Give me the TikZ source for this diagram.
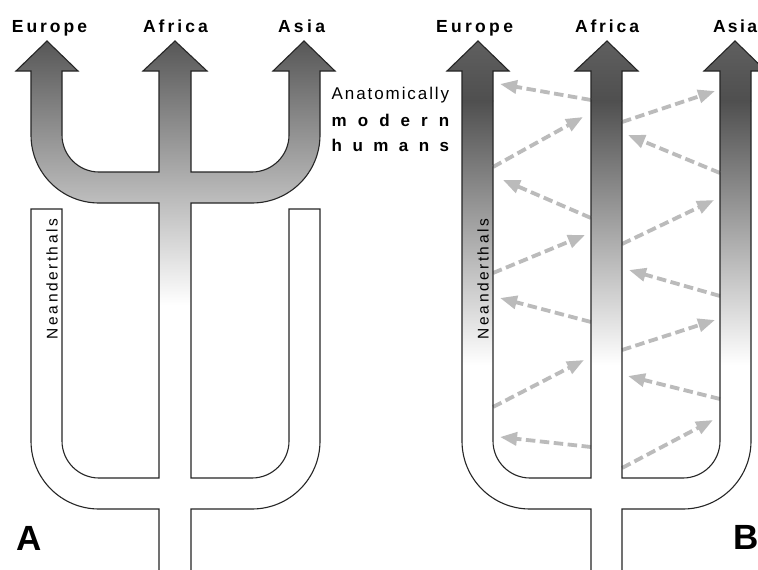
\documentclass[tikz,border=0pt]{standalone}
\usepackage{fontspec}
\setmainfont{Liberation Sans}
\usetikzlibrary{arrows.meta}
\definecolor{gdarkA}{HTML}{575757}
\definecolor{gheadB}{HTML}{606060}
\definecolor{gdarkB}{HTML}{4F4F4F}
\definecolor{migr}{HTML}{BBBBBB}
\newcommand{\spreadtxt}[2]{\makebox[#1][s]{#2}}
\begin{document}
\begin{tikzpicture}[x=1pt,y=-1pt,
  outline/.style={draw=black!85, line width=1.1pt, line join=miter},
  place/.style={font=\bfseries\fontsize{17.5}{19}\selectfont, inner sep=0pt, anchor=base},
  caption/.style={font=\fontsize{17}{19}\selectfont, inner sep=0pt, anchor=base west},
  captionbold/.style={font=\bfseries\fontsize{17}{19}\selectfont, inner sep=0pt, anchor=base west},
  neand/.style={font=\fontsize{15.5}{17}\selectfont, inner sep=0pt, anchor=base, rotate=90},
  panel/.style={font=\bfseries\fontsize{35}{40}\selectfont, inner sep=0pt, anchor=base west},
  migrate/.style={draw=migr, line width=3.8pt, dash pattern=on 9.5pt off 4.5pt,
    -{Triangle[length=17pt,width=13pt]}}]
\useasboundingbox (0,0) rectangle (758,570);
\fill[white] (0,0) rectangle (758,570);

% ---------- Panel A: modern humans (shaded) ----------
\begin{scope}
\clip (159,478) -- (159,203) -- (99,203) .. controls (61.4,203) and (31,172.6) .. (31,135)
  -- (31,71) -- (16,71) -- (47,41) -- (78,71) -- (62,71) -- (62,135)
  .. controls (62,155.4) and (78.6,172) .. (99,172) -- (159,172)
  -- (159,71) -- (143,71) -- (175,41) -- (207,71) -- (191,71) -- (191,172)
  -- (252,172) .. controls (272.4,172) and (289,155.4) .. (289,135)
  -- (289,71) -- (273,71) -- (304,41) -- (335,71) -- (320,71) -- (320,135)
  .. controls (320,172.6) and (289.6,203) .. (252,203) -- (191,203) -- (191,478) -- cycle;
\shade[top color=gdarkA, bottom color=white] (0,41) rectangle (380,305);
\end{scope}

% ---------- Panel A outline ----------
\draw[outline] (159,575) -- (159,509) -- (99,509) .. controls (61.4,509) and (31,478.6) .. (31,441)
  -- (31,209) -- (62,209) -- (62,441) .. controls (62,461.4) and (78.6,478) .. (99,478)
  -- (159,478) -- (159,203) -- (99,203) .. controls (61.4,203) and (31,172.6) .. (31,135)
  -- (31,71) -- (16,71) -- (47,41) -- (78,71) -- (62,71) -- (62,135)
  .. controls (62,155.4) and (78.6,172) .. (99,172) -- (159,172)
  -- (159,71) -- (143,71) -- (175,41) -- (207,71) -- (191,71) -- (191,172)
  -- (252,172) .. controls (272.4,172) and (289,155.4) .. (289,135)
  -- (289,71) -- (273,71) -- (304,41) -- (335,71) -- (320,71) -- (320,135)
  .. controls (320,172.6) and (289.6,203) .. (252,203) -- (191,203)
  -- (191,478) -- (252,478) .. controls (272.4,478) and (289,461.4) .. (289,441)
  -- (289,209) -- (320,209) -- (320,441) .. controls (320,478.6) and (289.6,509) .. (252,509)
  -- (191,509) -- (191,575);

% ---------- Panel B (shaded) ----------
\begin{scope}
\clip (591,575) -- (591,509) -- (530,509) .. controls (492.4,509) and (462,478.6) .. (462,441)
  -- (462,71) -- (447,71) -- (478,41) -- (509,71) -- (493,71) -- (493,441)
  .. controls (493,461.4) and (509.6,478) .. (530,478) -- (591,478)
  -- (591,71) -- (575,71) -- (607,41) -- (638,71) -- (622,71) -- (622,478)
  -- (683,478) .. controls (703.4,478) and (720,461.4) .. (720,441)
  -- (720,71) -- (704,71) -- (735,41) -- (766,71) -- (751,71) -- (751,441)
  .. controls (751,478.6) and (720.4,509) .. (683,509) -- (622,509) -- (622,575) -- cycle;
\shade[top color=gheadB, bottom color=gdarkB] (380,38) rectangle (770,101);
\shade[top color=gdarkB, bottom color=white] (380,100) rectangle (770,365);
\end{scope}

% ---------- Panel B gene flow arrows ----------
\coordinate (m1s) at (591,100);  \coordinate (m1e) at (500,84);
\coordinate (m2s) at (493,167);  \coordinate (m2e) at (583,117);
\coordinate (m3s) at (622,122);  \coordinate (m3e) at (715,91);
\coordinate (m4s) at (720,173);  \coordinate (m4e) at (628,135);
\coordinate (m5s) at (591,218);  \coordinate (m5e) at (503,180);
\coordinate (m6s) at (493,273);  \coordinate (m6e) at (585,235);
\coordinate (m7s) at (622,244);  \coordinate (m7e) at (714,200);
\coordinate (m8s) at (720,296);  \coordinate (m8e) at (629,270);
\coordinate (m9s) at (591,322);  \coordinate (m9e) at (500,298);
\coordinate (m10s) at (622,350); \coordinate (m10e) at (715,320);
\coordinate (m11s) at (493,407); \coordinate (m11e) at (584,360);
\coordinate (m12s) at (720,399); \coordinate (m12e) at (628,376);
\coordinate (m13s) at (591,447); \coordinate (m13e) at (500,437);
\coordinate (m14s) at (622,468); \coordinate (m14e) at (713,420);
\foreach \k in {1,...,14} { \draw[migrate] (m\k s) -- (m\k e); }

% ---------- Panel B outline ----------
\draw[outline] (591,575) -- (591,509) -- (530,509) .. controls (492.4,509) and (462,478.6) .. (462,441)
  -- (462,71) -- (447,71) -- (478,41) -- (509,71) -- (493,71) -- (493,441)
  .. controls (493,461.4) and (509.6,478) .. (530,478) -- (591,478)
  -- (591,71) -- (575,71) -- (607,41) -- (638,71) -- (622,71) -- (622,478)
  -- (683,478) .. controls (703.4,478) and (720,461.4) .. (720,441)
  -- (720,71) -- (704,71) -- (735,41) -- (766,71) -- (751,71) -- (751,441)
  .. controls (751,478.6) and (720.4,509) .. (683,509) -- (622,509) -- (622,575);

% ---------- Labels ----------
\node[place] (euA) at (49.5,32) {\spreadtxt{75pt}{E\hfill u\hfill r\hfill o\hfill p\hfill e}};
\node[place] (afA) at (175.5,32) {\spreadtxt{65pt}{A\hfill f\hfill r\hfill i\hfill c\hfill a}};
\node[place] (asA) at (301.5,32) {\spreadtxt{47pt}{A\hfill s\hfill i\hfill a}};
\node[place] (euB) at (474.5,32) {\spreadtxt{77pt}{E\hfill u\hfill r\hfill o\hfill p\hfill e}};
\node[place] (afB) at (607,32) {\spreadtxt{64pt}{A\hfill f\hfill r\hfill i\hfill c\hfill a}};
\node[place] (asB) at (735,32) {\spreadtxt{44pt}{A\hfill s\hfill i\hfill a}};

\node[caption] (amh1) at (331.5,99) {\spreadtxt{117.5pt}{A\hfill n\hfill a\hfill t\hfill o\hfill m\hfill i\hfill c\hfill a\hfill l\hfill l\hfill y}};
\node[captionbold] (amh2) at (331.5,126.5) {\spreadtxt{117.5pt}{m\hfill o\hfill d\hfill e\hfill r\hfill n}};
\node[captionbold] (amh3) at (331.5,151.5) {\spreadtxt{117.5pt}{h\hfill u\hfill m\hfill a\hfill n\hfill s}};

\node[neand] (neA) at (57.5,279) {\spreadtxt{120pt}{N\hfill e\hfill a\hfill n\hfill d\hfill e\hfill r\hfill t\hfill h\hfill a\hfill l\hfill s}};
\node[neand] (neB) at (488.5,279) {\spreadtxt{120pt}{N\hfill e\hfill a\hfill n\hfill d\hfill e\hfill r\hfill t\hfill h\hfill a\hfill l\hfill s}};

\node[panel] (pA) at (16,550) {A};
\node[panel] (pB) at (733.5,549) {B};
\end{tikzpicture}
\end{document}
